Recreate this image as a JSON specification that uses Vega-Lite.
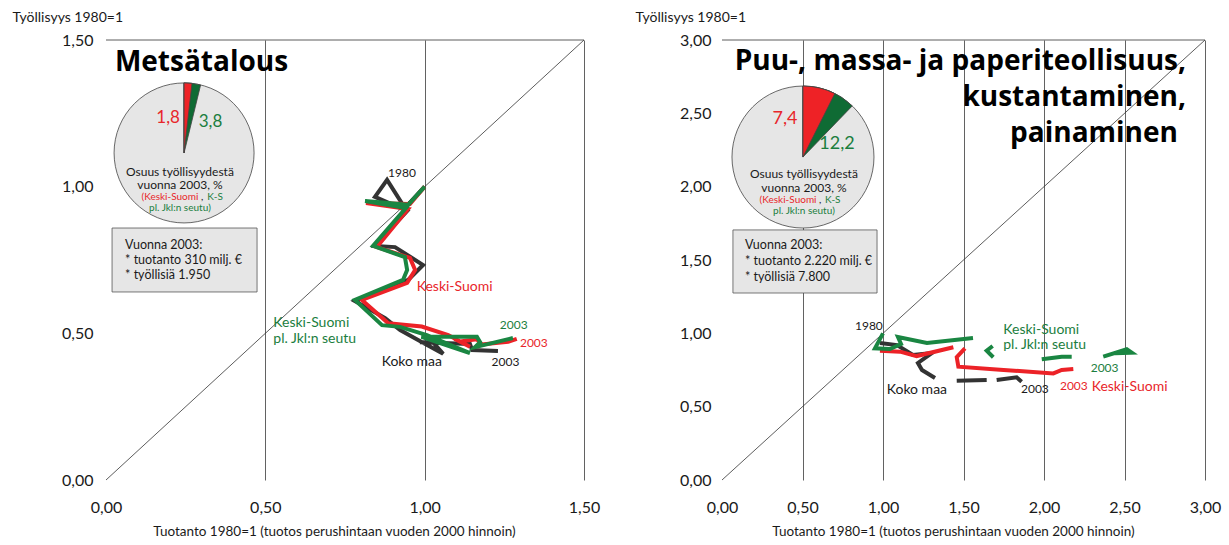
{
"$schema": "https://vega.github.io/schema/vega-lite/v6.json",
"padding": {"left": 12, "top": 10, "right": 2, "bottom": 2},
"config": {"font": "Lato", "view": {"stroke": null}},
"datasets": {
"fr": [
{"p":"L","x":0,"y":1.5,"x2":1.5,"y2":1.5},{"p":"L","x":0,"y":0,"x2":1.5,"y2":1.5},
{"p":"R","x":0,"y":3,"x2":3,"y2":3},{"p":"R","x":0,"y":0,"x2":3,"y2":3}],
"box": [
{"p":"L","x":0.019,"x2":0.474,"y":0.859,"y2":0.641},
{"p":"R","x":0.068,"x2":0.963,"y":1.705,"y2":1.275}],
"pie": [
{"p":"L","s":"bg","x":0.245,"y":1.115,"a0":0,"a1":1},
{"p":"L","s":"g","x":0.245,"y":1.115,"a0":0,"a1":0.038},
{"p":"L","s":"r","x":0.245,"y":1.115,"a0":0,"a1":0.018},
{"p":"R","s":"bg","x":0.503,"y":2.202,"a0":0,"a1":1},
{"p":"R","s":"g","x":0.503,"y":2.202,"a0":0,"a1":0.122},
{"p":"R","s":"r","x":0.503,"y":2.202,"a0":0,"a1":0.074}],
"ln": [
{"p":"L","s":"k","g":"Lk","t":1,"x":1.000,"y":1.000},
{"p":"L","s":"k","g":"Lk","t":2,"x":0.938,"y":0.927},
{"p":"L","s":"k","g":"Lk","t":3,"x":0.882,"y":1.023},
{"p":"L","s":"k","g":"Lk","t":4,"x":0.844,"y":0.965},
{"p":"L","s":"k","g":"Lk","t":5,"x":0.945,"y":0.917},
{"p":"L","s":"k","g":"Lk","t":6,"x":0.844,"y":0.798},
{"p":"L","s":"k","g":"Lk","t":7,"x":0.907,"y":0.794},
{"p":"L","s":"k","g":"Lk","t":8,"x":0.995,"y":0.733},
{"p":"L","s":"k","g":"Lk","t":9,"x":0.948,"y":0.682},
{"p":"L","s":"k","g":"Lk","t":10,"x":0.781,"y":0.610},
{"p":"L","s":"k","g":"Lk","t":11,"x":0.876,"y":0.552},
{"p":"L","s":"k","g":"Lk","t":12,"x":0.923,"y":0.511},
{"p":"L","s":"k","g":"Lk","t":13,"x":0.992,"y":0.470},
{"p":"L","s":"k","g":"Lk","t":14,"x":1.058,"y":0.430},
{"p":"L","s":"k","g":"Lk","t":15,"x":1.026,"y":0.470},
{"p":"L","s":"k","g":"Lk","t":16,"x":0.985,"y":0.470},
{"p":"L","s":"k","g":"Lk","t":17,"x":1.142,"y":0.464},
{"p":"L","s":"k","g":"Lk","t":18,"x":1.149,"y":0.443},
{"p":"L","s":"k","g":"Lk","t":19,"x":1.230,"y":0.440},
{"p":"R","s":"k","g":"Rk1","t":1,"x":0.981,"y":0.934},
{"p":"R","s":"k","g":"Rk1","t":2,"x":1.087,"y":0.920},
{"p":"R","s":"k","g":"Rk1","t":3,"x":1.186,"y":0.852},
{"p":"R","s":"k","g":"Rk1","t":4,"x":1.304,"y":0.866},
{"p":"R","s":"k","g":"Rk1","t":5,"x":1.217,"y":0.798},
{"p":"R","s":"k","g":"Rk1","t":6,"x":1.242,"y":0.750},
{"p":"R","s":"k","g":"Rk1","t":7,"x":1.323,"y":0.695},
{"p":"R","s":"k","g":"Rk2","t":8,"x":1.458,"y":0.677},
{"p":"R","s":"k","g":"Rk2","t":9,"x":1.644,"y":0.682},
{"p":"R","s":"k","g":"Rk3","t":10,"x":1.706,"y":0.682},
{"p":"R","s":"k","g":"Rk3","t":11,"x":1.830,"y":0.700},
{"p":"R","s":"k","g":"Rk3","t":12,"x":1.861,"y":0.670},
{"p":"L","s":"r","g":"Lr","t":1,"x":1.000,"y":1.000},
{"p":"L","s":"r","g":"Lr","t":2,"x":0.954,"y":0.941},
{"p":"L","s":"r","g":"Lr","t":3,"x":0.816,"y":0.944},
{"p":"L","s":"r","g":"Lr","t":4,"x":0.948,"y":0.924},
{"p":"L","s":"r","g":"Lr","t":5,"x":0.850,"y":0.794},
{"p":"L","s":"r","g":"Lr","t":6,"x":0.954,"y":0.757},
{"p":"L","s":"r","g":"Lr","t":7,"x":0.970,"y":0.716},
{"p":"L","s":"r","g":"Lr","t":8,"x":0.945,"y":0.672},
{"p":"L","s":"r","g":"Lr","t":9,"x":0.803,"y":0.614},
{"p":"L","s":"r","g":"Lr","t":10,"x":0.886,"y":0.534},
{"p":"L","s":"r","g":"Lr","t":11,"x":0.991,"y":0.523},
{"p":"L","s":"r","g":"Lr","t":12,"x":1.074,"y":0.494},
{"p":"L","s":"r","g":"Lr","t":13,"x":1.142,"y":0.454},
{"p":"L","s":"r","g":"Lr","t":14,"x":1.110,"y":0.472},
{"p":"L","s":"r","g":"Lr","t":15,"x":1.163,"y":0.480},
{"p":"L","s":"r","g":"Lr","t":16,"x":1.179,"y":0.462},
{"p":"L","s":"r","g":"Lr","t":17,"x":1.262,"y":0.471},
{"p":"L","s":"r","g":"Lr","t":18,"x":1.289,"y":0.481},
{"p":"R","s":"r","g":"Rr1","t":1,"x":0.981,"y":0.882},
{"p":"R","s":"r","g":"Rr1","t":2,"x":1.106,"y":0.875},
{"p":"R","s":"r","g":"Rr1","t":3,"x":1.209,"y":0.845},
{"p":"R","s":"r","g":"Rr1","t":4,"x":1.437,"y":0.905},
{"p":"R","s":"r","g":"Rr2","t":5,"x":1.509,"y":0.898},
{"p":"R","s":"r","g":"Rr2","t":6,"x":1.458,"y":0.837},
{"p":"R","s":"r","g":"Rr2","t":7,"x":1.468,"y":0.773},
{"p":"R","s":"r","g":"Rr2","t":8,"x":1.727,"y":0.752},
{"p":"R","s":"r","g":"Rr2","t":9,"x":2.058,"y":0.727},
{"p":"R","s":"r","g":"Rr2","t":10,"x":2.110,"y":0.750},
{"p":"R","s":"r","g":"Rr2","t":11,"x":2.182,"y":0.757},
{"p":"L","s":"g","g":"Lg","t":1,"x":1.000,"y":1.000},
{"p":"L","s":"g","g":"Lg","t":2,"x":0.948,"y":0.938},
{"p":"L","s":"g","g":"Lg","t":3,"x":0.813,"y":0.951},
{"p":"L","s":"g","g":"Lg","t":4,"x":0.941,"y":0.927},
{"p":"L","s":"g","g":"Lg","t":5,"x":0.838,"y":0.798},
{"p":"L","s":"g","g":"Lg","t":6,"x":0.938,"y":0.760},
{"p":"L","s":"g","g":"Lg","t":7,"x":0.945,"y":0.716},
{"p":"L","s":"g","g":"Lg","t":8,"x":0.932,"y":0.682},
{"p":"L","s":"g","g":"Lg","t":9,"x":0.781,"y":0.614},
{"p":"L","s":"g","g":"Lg","t":10,"x":0.866,"y":0.528},
{"p":"L","s":"g","g":"Lg","t":11,"x":0.923,"y":0.522},
{"p":"L","s":"g","g":"Lg","t":12,"x":1.007,"y":0.494},
{"p":"L","s":"g","g":"Lg","t":13,"x":1.142,"y":0.433},
{"p":"L","s":"g","g":"Lg","t":14,"x":0.990,"y":0.488},
{"p":"L","s":"g","g":"Lg","t":15,"x":1.164,"y":0.488},
{"p":"L","s":"g","g":"Lg","t":16,"x":1.174,"y":0.470},
{"p":"L","s":"g","g":"Lg","t":17,"x":1.158,"y":0.453},
{"p":"L","s":"g","g":"Lg","t":18,"x":1.277,"y":0.484},
{"p":"R","s":"g","g":"Rg1","t":1,"x":1.000,"y":1.000},
{"p":"R","s":"g","g":"Rg1","t":2,"x":0.950,"y":0.898},
{"p":"R","s":"g","g":"Rg1","t":3,"x":1.043,"y":0.893},
{"p":"R","s":"g","g":"Rg1","t":4,"x":1.112,"y":0.927},
{"p":"R","s":"g","g":"Rg1","t":5,"x":1.093,"y":0.975},
{"p":"R","s":"g","g":"Rg1","t":6,"x":1.273,"y":0.934},
{"p":"R","s":"g","g":"Rg1","t":7,"x":1.559,"y":0.968},
{"p":"R","s":"g","g":"Rg2","t":8,"x":1.681,"y":0.914},
{"p":"R","s":"g","g":"Rg2","t":9,"x":1.644,"y":0.882},
{"p":"R","s":"g","g":"Rg2","t":10,"x":1.685,"y":0.837},
{"p":"R","s":"g","g":"Rg3","t":11,"x":1.986,"y":0.823},
{"p":"R","s":"g","g":"Rg3","t":12,"x":2.110,"y":0.841},
{"p":"R","s":"g","g":"Rg3","t":13,"x":2.172,"y":0.841},
{"p":"R","s":"g","g":"Rg4","t":14,"x":2.368,"y":0.841},
{"p":"R","s":"g","g":"Rg4","t":15,"x":2.514,"y":0.891},
{"p":"R","s":"g","g":"Rg4","t":16,"x":2.545,"y":0.868},
{"p":"R","s":"g","g":"Rg4","t":17,"x":2.441,"y":0.864}],
"lb": [
{"p":"L","k":"title","c":"k","x":0.028,"y":1.394,"txt":"Metsätalous"},
{"p":"L","k":"pnum","c":"r","x":0.195,"y":1.234,"txt":"1,8"},
{"p":"L","k":"pnum","c":"g","x":0.328,"y":1.220,"txt":"3,8"},
{"p":"L","k":"cap","c":"k","x":0.232,"y":1.050,"txt":"Osuus työllisyydestä"},
{"p":"L","k":"cap","c":"k","x":0.232,"y":1.006,"txt":"vuonna 2003, %"},
{"p":"L","k":"legR","c":"r","x":0.290,"y":0.965,"txt":"(Keski-Suomi"},
{"p":"L","k":"legL","c":"k","x":0.298,"y":0.965,"txt":","},
{"p":"L","k":"legL","c":"g","x":0.318,"y":0.965,"txt":"K-S"},
{"p":"L","k":"legC","c":"g","x":0.232,"y":0.927,"txt":"pl. Jkl:n seutu)"},
{"p":"L","k":"box","c":"k","x":0.060,"y":0.801,"txt":"Vuonna 2003:"},
{"p":"L","k":"box","c":"k","x":0.060,"y":0.750,"txt":"* tuotanto 310 milj. €"},
{"p":"L","k":"box","c":"k","x":0.060,"y":0.699,"txt":"* työllisiä 1.950"},
{"p":"L","k":"name","c":"r","x":0.975,"y":0.659,"txt":"Keski-Suomi"},
{"p":"L","k":"name","c":"g","x":0.525,"y":0.534,"txt":"Keski-Suomi"},
{"p":"L","k":"name","c":"g","x":0.525,"y":0.480,"txt":"pl. Jkl:n seutu"},
{"p":"L","k":"name","c":"k","x":0.865,"y":0.403,"txt":"Koko maa"},
{"p":"L","k":"yr","c":"k","x":0.885,"y":1.046,"txt":"1980"},
{"p":"L","k":"yr","c":"g","x":1.236,"y":0.530,"txt":"2003"},
{"p":"L","k":"yr","c":"r","x":1.299,"y":0.468,"txt":"2003"},
{"p":"L","k":"yr","c":"k","x":1.210,"y":0.403,"txt":"2003"},
{"p":"R","k":"title","c":"k","x":2.882,"y":2.795,"txt":"Puu-, massa- ja paperiteollisuus,"},
{"p":"R","k":"title","c":"k","x":2.882,"y":2.550,"txt":"kustantaminen,"},
{"p":"R","k":"title","c":"k","x":2.832,"y":2.305,"txt":"painaminen"},
{"p":"R","k":"pnum","c":"r","x":0.391,"y":2.461,"txt":"7,4"},
{"p":"R","k":"pnum","c":"g","x":0.714,"y":2.291,"txt":"12,2"},
{"p":"R","k":"cap","c":"k","x":0.509,"y":2.083,"txt":"Osuus työllisyydestä"},
{"p":"R","k":"cap","c":"k","x":0.509,"y":1.994,"txt":"vuonna 2003, %"},
{"p":"R","k":"legR","c":"r","x":0.587,"y":1.912,"txt":"(Keski-Suomi"},
{"p":"R","k":"legL","c":"k","x":0.603,"y":1.912,"txt":","},
{"p":"R","k":"legL","c":"g","x":0.640,"y":1.912,"txt":"K-S"},
{"p":"R","k":"legC","c":"g","x":0.509,"y":1.837,"txt":"pl. Jkl:n seutu)"},
{"p":"R","k":"box","c":"k","x":0.143,"y":1.602,"txt":"Vuonna 2003:"},
{"p":"R","k":"box","c":"k","x":0.143,"y":1.493,"txt":"* tuotanto 2.220 milj. €"},
{"p":"R","k":"box","c":"k","x":0.143,"y":1.384,"txt":"* työllisiä 7.800"},
{"p":"R","k":"name","c":"g","x":1.747,"y":1.025,"txt":"Keski-Suomi"},
{"p":"R","k":"name","c":"g","x":1.747,"y":0.918,"txt":"pl. Jkl:n seutu"},
{"p":"R","k":"name","c":"r","x":2.296,"y":0.632,"txt":"Keski-Suomi"},
{"p":"R","k":"name","c":"k","x":1.023,"y":0.614,"txt":"Koko maa"},
{"p":"R","k":"yr","c":"k","x":0.826,"y":1.052,"txt":"1980"},
{"p":"R","k":"yr","c":"g","x":2.290,"y":0.766,"txt":"2003"},
{"p":"R","k":"yr","c":"r","x":2.099,"y":0.641,"txt":"2003"},
{"p":"R","k":"yr","c":"k","x":1.857,"y":0.618,"txt":"2003"}]
},
"spacing": 138,
"bounds": "flush",
"hconcat": [
{
"width": 478, "height": 440,
"encoding": {
"x": {"field":"x","type":"quantitative","scale":{"domain":[0,1.5],"nice":false,"zero":false},
 "axis":{"values":[0,0.5,1,1.5],"labelExpr":"replace(format(datum.value,'.2f'),'.',',')","title":"Tuotanto 1980=1 (tuotos perushintaan vuoden 2000 hinnoin)","titleX":228,"titleY":44,"titleAlign":"center","titleBaseline":"top","domain":false,"ticks":false,"grid":true,"gridColor":"#3a3a3a","gridWidth":0.8,"gridOpacity":{"condition":{"test":"datum.value===0","value":0},"value":1},"labelFontSize":16,"labelPadding":19,"labelColor":"#1a1a1a","labelFlush":false,"labelOverlap":false,"titleFontSize":13.5,"titleFontWeight":"normal","titleColor":"#1a1a1a"}},
"y": {"field":"y","type":"quantitative","scale":{"domain":[0,1.5],"nice":false,"zero":false},
 "axis":{"values":[0,0.5,1,1.5],"labelExpr":"replace(format(datum.value,'.2f'),'.',',')","title":"Työllisyys 1980=1","titleAngle":0,"titleAlign":"left","titleBaseline":"middle","titleX":-94,"titleY":-23,"domain":false,"ticks":false,"grid":false,"labelFontSize":16,"labelPadding":13,"labelColor":"#1a1a1a","labelFlush":false,"labelOverlap":false,"titleFontSize":14,"titleFontWeight":"normal","titleColor":"#1a1a1a"}}
},
"layer": [
{"data":{"name":"fr"},"transform":[{"filter":"datum.p==='L'"}],"mark":{"type":"rule","color":"#333","strokeWidth":0.8},"encoding":{"x2":{"field":"x2"},"y2":{"field":"y2"}}},
{"data":{"name":"box"},"transform":[{"filter":"datum.p==='L'"}],"mark":{"type":"rect","fill":"#e6e6e6","stroke":"#555","strokeWidth":0.8},"encoding":{"x2":{"field":"x2"},"y2":{"field":"y2"}}},
{"data":{"name":"pie"},"transform":[{"filter":"datum.p==='L'"}],"mark":{"type":"arc","radius":70,"stroke":"#444","strokeWidth":0.8},"encoding":{"theta":{"field":"a0","type":"quantitative","stack":null,"scale":{"domain":[0,1],"range":[0,6.283185]}},"theta2":{"field":"a1"},"color":{"field":"s","type":"nominal","scale":{"domain":["bg","g","r"],"range":["#e6e6e6","#0f6b34","#ee2226"]},"legend":null}}},
{"data":{"name":"ln"},"transform":[{"filter":"datum.p==='L'"}],"mark":{"type":"line","strokeWidth":4,"strokeJoin":"miter"},"encoding":{"color":{"field":"s","type":"nominal","scale":{"domain":["k","r","g"],"range":["#333333","#ec2227","#1a8642"]},"legend":null},"detail":{"field":"g"},"order":{"field":"t","type":"quantitative"}}},
{"data":{"name":"lb"},"transform":[{"filter":"datum.p==='L' && datum.k==='title'"}],"mark":{"type":"text","align":"left","baseline":"alphabetic","font":"Open Sans","fontSize":28,"fontWeight":"bold","color":"#000"},"encoding":{"text":{"field":"txt"}}},
{"data":{"name":"lb"},"transform":[{"filter":"datum.p==='L' && datum.k==='pnum'"}],"mark":{"type":"text","align":"center","baseline":"middle","fontSize":17},"encoding":{"text":{"field":"txt"},"color":{"field":"c","type":"nominal","scale":{"domain":["k","r","g"],"range":["#1a1a1a","#e8262b","#1b7e3e"]},"legend":null}}},
{"data":{"name":"lb"},"transform":[{"filter":"datum.p==='L' && datum.k==='cap'"}],"mark":{"type":"text","align":"center","baseline":"middle","fontSize":12,"color":"#1a1a1a"},"encoding":{"text":{"field":"txt"}}},
{"data":{"name":"lb"},"transform":[{"filter":"datum.p==='L' && datum.k==='legR'"}],"mark":{"type":"text","align":"right","baseline":"middle","fontSize":10},"encoding":{"text":{"field":"txt"},"color":{"field":"c","type":"nominal","scale":{"domain":["k","r","g"],"range":["#1a1a1a","#e8262b","#1b7e3e"]},"legend":null}}},
{"data":{"name":"lb"},"transform":[{"filter":"datum.p==='L' && datum.k==='legL'"}],"mark":{"type":"text","align":"left","baseline":"middle","fontSize":10},"encoding":{"text":{"field":"txt"},"color":{"field":"c","type":"nominal","scale":{"domain":["k","r","g"],"range":["#1a1a1a","#e8262b","#1b7e3e"]},"legend":null}}},
{"data":{"name":"lb"},"transform":[{"filter":"datum.p==='L' && datum.k==='legC'"}],"mark":{"type":"text","align":"center","baseline":"middle","fontSize":10},"encoding":{"text":{"field":"txt"},"color":{"field":"c","type":"nominal","scale":{"domain":["k","r","g"],"range":["#1a1a1a","#e8262b","#1b7e3e"]},"legend":null}}},
{"data":{"name":"lb"},"transform":[{"filter":"datum.p==='L' && datum.k==='box'"}],"mark":{"type":"text","align":"left","baseline":"middle","fontSize":12.5,"color":"#1a1a1a"},"encoding":{"text":{"field":"txt"}}},
{"data":{"name":"lb"},"transform":[{"filter":"datum.p==='L' && datum.k==='name'"}],"mark":{"type":"text","align":"left","baseline":"middle","fontSize":14},"encoding":{"text":{"field":"txt"},"color":{"field":"c","type":"nominal","scale":{"domain":["k","r","g"],"range":["#1a1a1a","#e8262b","#1b7e3e"]},"legend":null}}},
{"data":{"name":"lb"},"transform":[{"filter":"datum.p==='L' && datum.k==='yr'"}],"mark":{"type":"text","align":"left","baseline":"middle","fontSize":12},"encoding":{"text":{"field":"txt"},"color":{"field":"c","type":"nominal","scale":{"domain":["k","r","g"],"range":["#1a1a1a","#e8262b","#1b7e3e"]},"legend":null}}}
],
"resolve": {"scale": {"color": "independent"}}
},
{
"width": 483, "height": 440,
"encoding": {
"x": {"field":"x","type":"quantitative","scale":{"domain":[0,3],"nice":false,"zero":false},
 "axis":{"values":[0,0.5,1,1.5,2,2.5,3],"labelExpr":"replace(format(datum.value,'.2f'),'.',',')","title":"Tuotanto 1980=1 (tuotos perushintaan vuoden 2000 hinnoin)","titleX":231,"titleY":44,"titleAlign":"center","titleBaseline":"top","domain":false,"ticks":false,"grid":true,"gridColor":"#3a3a3a","gridWidth":0.8,"gridOpacity":{"condition":{"test":"datum.value===0","value":0},"value":1},"labelFontSize":16,"labelPadding":19,"labelColor":"#1a1a1a","labelFlush":false,"labelOverlap":false,"titleFontSize":13.5,"titleFontWeight":"normal","titleColor":"#1a1a1a"}},
"y": {"field":"y","type":"quantitative","scale":{"domain":[0,3],"nice":false,"zero":false},
 "axis":{"values":[0,0.5,1,1.5,2,2.5,3],"labelExpr":"replace(format(datum.value,'.2f'),'.',',')","title":"Työllisyys 1980=1","titleAngle":0,"titleAlign":"left","titleBaseline":"middle","titleX":-87,"titleY":-23,"domain":false,"ticks":false,"grid":false,"labelFontSize":16,"labelPadding":11,"labelColor":"#1a1a1a","labelFlush":false,"labelOverlap":false,"titleFontSize":14,"titleFontWeight":"normal","titleColor":"#1a1a1a"}}
},
"layer": [
{"data":{"name":"fr"},"transform":[{"filter":"datum.p==='R'"}],"mark":{"type":"rule","color":"#333","strokeWidth":0.8},"encoding":{"x2":{"field":"x2"},"y2":{"field":"y2"}}},
{"data":{"name":"box"},"transform":[{"filter":"datum.p==='R'"}],"mark":{"type":"rect","fill":"#e6e6e6","stroke":"#555","strokeWidth":0.8},"encoding":{"x2":{"field":"x2"},"y2":{"field":"y2"}}},
{"data":{"name":"pie"},"transform":[{"filter":"datum.p==='R'"}],"mark":{"type":"arc","radius":71,"stroke":"#444","strokeWidth":0.8},"encoding":{"theta":{"field":"a0","type":"quantitative","stack":null,"scale":{"domain":[0,1],"range":[0,6.283185]}},"theta2":{"field":"a1"},"color":{"field":"s","type":"nominal","scale":{"domain":["bg","g","r"],"range":["#e6e6e6","#0f6b34","#ee2226"]},"legend":null}}},
{"data":{"name":"ln"},"transform":[{"filter":"datum.p==='R'"}],"mark":{"type":"line","strokeWidth":4,"strokeJoin":"miter"},"encoding":{"color":{"field":"s","type":"nominal","scale":{"domain":["k","r","g"],"range":["#333333","#ec2227","#1a8642"]},"legend":null},"detail":{"field":"g"},"order":{"field":"t","type":"quantitative"}}},
{"data":{"name":"lb"},"transform":[{"filter":"datum.p==='R' && datum.k==='title'"}],"mark":{"type":"text","align":"right","baseline":"alphabetic","font":"Open Sans","fontSize":28,"fontWeight":"bold","color":"#000"},"encoding":{"text":{"field":"txt"}}},
{"data":{"name":"lb"},"transform":[{"filter":"datum.p==='R' && datum.k==='pnum'"}],"mark":{"type":"text","align":"center","baseline":"middle","fontSize":18},"encoding":{"text":{"field":"txt"},"color":{"field":"c","type":"nominal","scale":{"domain":["k","r","g"],"range":["#1a1a1a","#e8262b","#1b7e3e"]},"legend":null}}},
{"data":{"name":"lb"},"transform":[{"filter":"datum.p==='R' && datum.k==='cap'"}],"mark":{"type":"text","align":"center","baseline":"middle","fontSize":12,"color":"#1a1a1a"},"encoding":{"text":{"field":"txt"}}},
{"data":{"name":"lb"},"transform":[{"filter":"datum.p==='R' && datum.k==='legR'"}],"mark":{"type":"text","align":"right","baseline":"middle","fontSize":10},"encoding":{"text":{"field":"txt"},"color":{"field":"c","type":"nominal","scale":{"domain":["k","r","g"],"range":["#1a1a1a","#e8262b","#1b7e3e"]},"legend":null}}},
{"data":{"name":"lb"},"transform":[{"filter":"datum.p==='R' && datum.k==='legL'"}],"mark":{"type":"text","align":"left","baseline":"middle","fontSize":10},"encoding":{"text":{"field":"txt"},"color":{"field":"c","type":"nominal","scale":{"domain":["k","r","g"],"range":["#1a1a1a","#e8262b","#1b7e3e"]},"legend":null}}},
{"data":{"name":"lb"},"transform":[{"filter":"datum.p==='R' && datum.k==='legC'"}],"mark":{"type":"text","align":"center","baseline":"middle","fontSize":10},"encoding":{"text":{"field":"txt"},"color":{"field":"c","type":"nominal","scale":{"domain":["k","r","g"],"range":["#1a1a1a","#e8262b","#1b7e3e"]},"legend":null}}},
{"data":{"name":"lb"},"transform":[{"filter":"datum.p==='R' && datum.k==='box'"}],"mark":{"type":"text","align":"left","baseline":"middle","fontSize":12.5,"color":"#1a1a1a"},"encoding":{"text":{"field":"txt"}}},
{"data":{"name":"lb"},"transform":[{"filter":"datum.p==='R' && datum.k==='name'"}],"mark":{"type":"text","align":"left","baseline":"middle","fontSize":14},"encoding":{"text":{"field":"txt"},"color":{"field":"c","type":"nominal","scale":{"domain":["k","r","g"],"range":["#1a1a1a","#e8262b","#1b7e3e"]},"legend":null}}},
{"data":{"name":"lb"},"transform":[{"filter":"datum.p==='R' && datum.k==='yr'"}],"mark":{"type":"text","align":"left","baseline":"middle","fontSize":12},"encoding":{"text":{"field":"txt"},"color":{"field":"c","type":"nominal","scale":{"domain":["k","r","g"],"range":["#1a1a1a","#e8262b","#1b7e3e"]},"legend":null}}}
],
"resolve": {"scale": {"color": "independent"}}
}
]
}
